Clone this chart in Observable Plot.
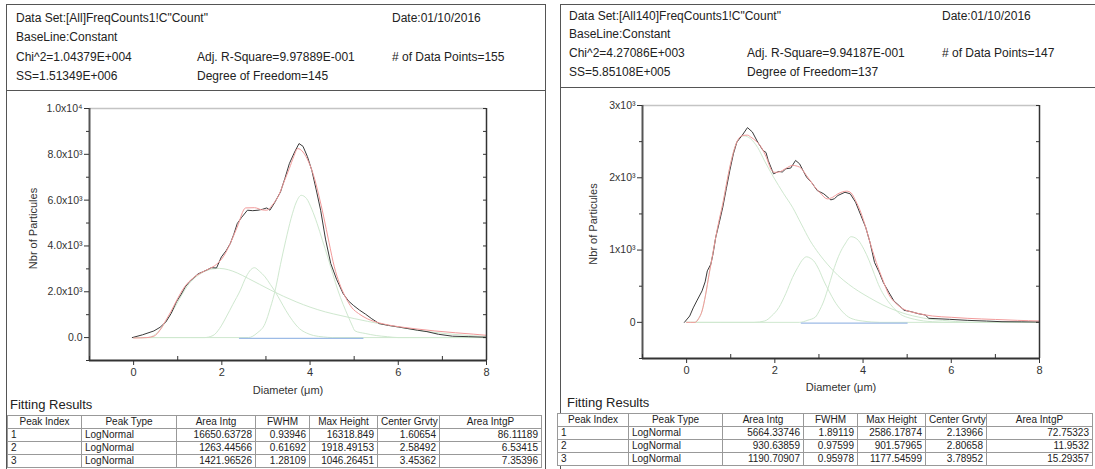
<!DOCTYPE html>
<html><head><meta charset="utf-8">
<script src="https://cdn.jsdelivr.net/npm/d3@7"></script>
<script src="https://cdn.jsdelivr.net/npm/@observablehq/plot@0.6"></script>
<style>
body{margin:0;width:1095px;height:469px;overflow:hidden;background:#fff;font-family:"Liberation Sans",Arial,sans-serif;position:relative;color:#222}
.panel{position:absolute;border:1.5px solid #555;box-sizing:border-box;}
.hr{position:absolute;height:0;border-top:1.5px solid #555;}
.t{position:absolute;font-size:12px;white-space:nowrap;line-height:14px}
.fr{position:absolute;font-size:13px;line-height:15px;white-space:nowrap}
.chart{position:absolute}
table{position:absolute;border-collapse:collapse;font-size:10px;table-layout:fixed;background:#fff}
td,th{border:1px solid #999;padding:0 3px;height:12px;line-height:12px;font-weight:normal;white-space:nowrap;overflow:hidden}
th{text-align:center}
td.n{text-align:right}
</style></head><body>
<div class="panel" style="left:6px;top:4px;width:540px;height:500px"></div>
<div class="panel" style="left:560px;top:4px;width:600px;height:500px"></div>
<div class="hr" style="left:6px;top:90px;width:540px"></div>
<div class="hr" style="left:560px;top:87px;width:535px"></div>
<div id="hdrL"></div><div id="hdrR"></div>
<div id="chartL" class="chart" style="left:0;top:90px"></div>
<div id="chartR" class="chart" style="left:548px;top:87px"></div>
<div class="fr" style="left:10px;top:397px">Fitting Results</div>
<div class="fr" style="left:567px;top:395px">Fitting Results</div>
<table id="tabL" style="left:7px;top:415px;width:534px"></table>
<table id="tabR" style="left:557px;top:413px;width:535px"></table>
<script>
// ---------- header texts ----------
const headerLeft = [
  ['Data Set:[All]FreqCounts1!C"Count"', '', 'Date:01/10/2016'],
  ['BaseLine:Constant', '', ''],
  ['Chi^2=1.04379E+004', 'Adj. R-Square=9.97889E-001', '# of Data Points=155'],
  ['SS=1.51349E+006', 'Degree of Freedom=145', '']
];
const headerRight = [
  ['Data Set:[All140]FreqCounts1!C"Count"', '', 'Date:01/10/2016'],
  ['BaseLine:Constant', '', ''],
  ['Chi^2=4.27086E+003', 'Adj. R-Square=9.94187E-001', '# of Data Points=147'],
  ['SS=5.85108E+005', 'Degree of Freedom=137', '']
];
// ---------- fitting result tables ----------
const tableColumns = ["Peak Index","Peak Type","Area Intg","FWHM","Max Height","Center Grvty","Area IntgP"];
const tableLeftRows = [
  ["1","LogNormal","16650.63728","0.93946","16318.849","1.60654","86.11189"],
  ["2","LogNormal","1263.44566","0.61692","1918.49153","2.58492","6.53415"],
  ["3","LogNormal","1421.96526","1.28109","1046.26451","3.45362","7.35396"]
];
const tableRightRows = [
  ["1","LogNormal","5664.33746","1.89119","2586.17874","2.13966","72.75323"],
  ["2","LogNormal","930.63859","0.97599","901.57965","2.80658","11.9532"],
  ["3","LogNormal","1190.70907","0.95978","1177.54599","3.78952","15.29357"]
];
// ---------- left chart data [diameter, count] ----------
const leftMeasured = [[-0.03,0],[0.2,120],[0.46,290],[0.6,450],[0.73,680],[0.85,1050],[0.97,1560],[1.08,1900],[1.17,2210],[1.27,2450],[1.36,2600],[1.46,2780],[1.56,2865],[1.68,2970],[1.76,3050],[1.88,3040],[1.99,3520],[2.1,3800],[2.19,4100],[2.27,4500],[2.35,4980],[2.45,5250],[2.58,5560],[2.7,5540],[2.82,5560],[2.92,5600],[3.02,5660],[3.09,5560],[3.2,5900],[3.33,6360],[3.43,6950],[3.53,7590],[3.65,8100],[3.75,8470],[3.84,8350],[3.94,7900],[4.04,7300],[4.14,6450],[4.24,5560],[4.35,4300],[4.47,3230],[4.6,2550],[4.75,1920],[4.87,1600],[4.98,1410],[5.12,1200],[5.26,1020],[5.4,820],[5.57,610],[5.78,530],[6.0,465],[6.2,400],[6.44,320],[6.65,260],[6.91,145],[7.23,60],[7.6,40],[8,15]];
const leftFit = [[0,-20],[0.3,0],[0.46,60],[0.6,330],[0.73,750],[0.85,1150],[0.97,1600],[1.15,2200],[1.36,2620],[1.55,2850],[1.72,3010],[1.88,3200],[2.03,3520],[2.2,4150],[2.35,4830],[2.54,5660],[2.74,5670],[2.9,5580],[3.02,5560],[3.15,5800],[3.29,6210],[3.41,6800],[3.53,7380],[3.63,7900],[3.72,8250],[3.84,8100],[3.96,7700],[4.08,7080],[4.2,6200],[4.31,5270],[4.43,4150],[4.55,3090],[4.67,2350],[4.8,1780],[4.95,1300],[5.1,1050],[5.3,820],[5.57,640],[5.8,540],[6.05,465],[6.4,380],[6.83,290],[7.3,210],[7.7,150],[8,100]];
const leftPeak1 = [[0,0],[0.3,0],[0.5,150],[0.7,600],[0.85,1050],[1.0,1550],[1.15,2050],[1.3,2450],[1.45,2700],[1.6,2880],[1.8,3000],[1.95,3020],[2.15,2960],[2.35,2820],[2.6,2580],[2.85,2330],[3.1,2080],[3.4,1800],[3.7,1550],[4.0,1330],[4.35,1120],[4.7,960],[5.0,830],[5.3,710],[5.65,580],[6.0,460],[6.4,330],[6.8,230],[7.2,150],[7.6,90],[8,50]];
const leftPeak2 = [[0,0],[1.6,0],[1.8,90],[1.95,400],[2.1,900],[2.25,1450],[2.42,2070],[2.55,2650],[2.66,2970],[2.74,3050],[2.85,2900],[2.98,2650],[3.1,2320],[3.21,2000],[3.33,1600],[3.45,1190],[3.6,750],[3.76,390],[3.92,200],[4.08,90],[4.3,30],[4.5,0],[8,0]];
const leftPeak3 = [[0,0],[2.6,0],[2.8,200],[2.98,610],[3.1,1300],[3.21,2070],[3.33,3200],[3.45,4250],[3.57,5200],[3.69,5920],[3.8,6210],[3.92,6070],[4.04,5600],[4.16,4980],[4.28,4250],[4.4,3520],[4.52,2750],[4.63,2070],[4.75,1450],[4.87,900],[4.95,550],[5.02,290],[5.25,180],[5.5,90],[5.75,40],[6.0,0],[8,0]];
const leftBaseline = [[2.4,-30],[5.2,-30]];
const leftYTicks = [0,2000,4000,6000,8000,10000];
const leftYTickLabels = ["0.0","2.0x10³","4.0x10³","6.0x10³","8.0x10³","1.0x10⁴"];
const leftYMinor = [-1000,1000,3000,5000,7000,9000];
// ---------- right chart data ----------
const rightMeasured = [[-0.05,0],[0.07,88],[0.15,200],[0.23,296],[0.35,435],[0.42,560],[0.47,713],[0.55,806],[0.6,950],[0.66,1176],[0.74,1380],[0.82,1593],[0.9,1850],[0.98,2102],[1.06,2330],[1.14,2495],[1.26,2588],[1.38,2694],[1.49,2634],[1.61,2495],[1.73,2380],[1.8,2350],[1.85,2240],[1.97,2055],[2.09,2088],[2.17,2080],[2.25,2125],[2.36,2134],[2.47,2240],[2.56,2194],[2.64,2100],[2.72,2009],[2.84,1930],[2.96,1824],[3.11,1778],[3.27,1694],[3.35,1710],[3.43,1755],[3.59,1800],[3.71,1778],[3.83,1662],[3.95,1480],[4.06,1315],[4.16,1100],[4.26,829],[4.36,700],[4.46,551],[4.58,420],[4.7,296],[4.82,230],[4.93,167],[5.09,148],[5.25,120],[5.41,102],[5.49,56],[5.7,50],[5.96,42],[6.36,28],[6.8,18],[7.15,9],[7.6,7],[8,5]];
const rightFit = [[0,0],[0.19,0],[0.27,50],[0.35,157],[0.43,380],[0.51,667],[0.58,900],[0.66,1176],[0.74,1420],[0.82,1639],[0.9,1900],[0.98,2148],[1.06,2350],[1.14,2495],[1.22,2570],[1.3,2588],[1.38,2590],[1.45,2565],[1.57,2510],[1.69,2426],[1.81,2280],[1.93,2102],[2.01,2075],[2.09,2079],[2.25,2130],[2.4,2171],[2.56,2148],[2.72,2030],[2.88,1894],[3.03,1790],[3.19,1708],[3.31,1730],[3.43,1778],[3.63,1815],[3.73,1790],[3.83,1685],[3.95,1520],[4.06,1315],[4.18,1060],[4.3,829],[4.44,600],[4.58,389],[4.75,260],[4.93,180],[5.2,130],[5.57,88],[6.0,70],[6.36,56],[7.0,40],[7.5,28],[8,19]];
const rightPeak1 = [[0,0],[0.19,0],[0.27,50],[0.35,157],[0.43,380],[0.51,667],[0.66,1176],[0.82,1639],[0.98,2148],[1.14,2495],[1.3,2580],[1.45,2540],[1.61,2420],[1.77,2230],[1.97,2010],[2.2,1780],[2.4,1593],[2.6,1360],[2.8,1130],[3.0,950],[3.19,806],[3.43,650],[3.67,528],[3.9,430],[4.14,343],[4.45,240],[4.77,157],[5.0,110],[5.25,74],[5.5,45],[5.8,28],[6.1,12],[6.36,0],[8,0]];
const rightPeak2 = [[0,0],[1.53,0],[1.77,19],[1.93,90],[2.09,204],[2.25,400],[2.4,620],[2.52,760],[2.64,875],[2.72,907],[2.8,890],[2.88,852],[3.0,730],[3.11,574],[3.23,430],[3.35,296],[3.5,170],[3.67,74],[3.83,35],[3.98,19],[4.2,5],[4.38,0],[8,0]];
const rightPeak3 = [[0,0],[2.56,0],[2.75,30],[2.92,74],[3.0,150],[3.11,296],[3.23,520],[3.35,759],[3.47,950],[3.59,1083],[3.73,1185],[3.82,1170],[3.9,1130],[4.02,1010],[4.14,852],[4.26,660],[4.38,481],[4.5,350],[4.62,250],[4.74,170],[4.85,111],[5.0,70],[5.17,42],[5.37,20],[5.57,9],[5.96,0],[8,0]];
const rightBaseline = [[2.6,-10],[5.0,-10]];
const rightYTicks = [0,1000,2000,3000];
const rightYTickLabels = ["0","1x10³","2x10³","3x10³"];
const rightYMinor = [-500,500,1500,2500];
const xTicks = [0,2,4,6,8];
const xTickLabels = ["0","2","4","6","8"];
const xMinor = [-1,1,3,5,7];
const yTitle = "Nbr of Particules";
const xTitle = "Diameter (μm)";

function header(el, rows, xs, ys){
  const host = document.getElementById(el);
  rows.forEach((r,i)=>r.forEach((txt,j)=>{
    if(!txt) return;
    const d=document.createElement("div");
    d.className="t"; d.textContent=txt;
    d.style.left=xs[j]+"px"; d.style.top=(ys[i]-7)+"px";
    host.appendChild(d);
  }));
}
header("hdrL", headerLeft, [16,197,392], [18,37,57,76]);
header("hdrR", headerRight, [569,747,942], [16,34,53,72]);

function table(el, rows, widths){
  const t=document.getElementById(el);
  const cg=document.createElement("colgroup");
  widths.forEach(w=>{const c=document.createElement("col");c.style.width=w+"px";cg.appendChild(c);});
  t.appendChild(cg);
  const hr=document.createElement("tr");
  tableColumns.forEach(c=>{const th=document.createElement("th");th.textContent=c;hr.appendChild(th);});
  t.appendChild(hr);
  rows.forEach(r=>{
    const tr=document.createElement("tr");
    r.forEach((v,j)=>{const td=document.createElement("td");td.textContent=v;if(j>1)td.className="n";tr.appendChild(td);});
    t.appendChild(tr);
  });
}
table("tabL", tableLeftRows, [74,95,79,54,68,62,102]);
table("tabR", tableRightRows, [71,94,81,54,68,61,106]);

function chart(cfg){
  const px=d=>d[0], py=d=>d[1];
  return Plot.plot({
    width:cfg.w, height:cfg.h,
    marginLeft:cfg.ml, marginRight:cfg.mr, marginTop:cfg.mt, marginBottom:cfg.mb,
    style:{fontFamily:"Liberation Sans, Arial, sans-serif", fontSize:"11px", color:"#333", background:"transparent", overflow:"visible"},
    x:{domain:[-1,8]},
    y:{domain:cfg.ydom},
    marks:[
      Plot.line(cfg.p1,{x:px,y:py,stroke:"#cfe8cf",strokeWidth:1,curve:"monotone-x"}),
      Plot.line(cfg.p2,{x:px,y:py,stroke:"#cfe8cf",strokeWidth:1,curve:"monotone-x"}),
      Plot.line(cfg.p3,{x:px,y:py,stroke:"#cfe8cf",strokeWidth:1,curve:"monotone-x"}),
      Plot.line(cfg.base,{x:px,y:py,stroke:"#9dbbe6",strokeWidth:1.2}),
      Plot.line(cfg.meas,{x:px,y:py,stroke:"#3a3a3a",strokeWidth:1}),
      Plot.line(cfg.fit,{x:px,y:py,stroke:"#f29a9a",strokeWidth:1,curve:"monotone-x"}),
      Plot.ruleY([cfg.ydom[1]],{stroke:"#c4c4c4",strokeWidth:1.5}),
      Plot.ruleX([8],{stroke:"#333",strokeWidth:1.5}),
      Plot.ruleX([-1],{stroke:"#555",strokeWidth:2}),
      Plot.ruleY([cfg.ydom[0]],{stroke:"#333",strokeWidth:2}),
      Plot.axisY({ticks:cfg.yt, anchor:"left", tickSize:5, tickPadding:2, fontSize:10.5,
        tickFormat:d=>cfg.yl[cfg.yt.indexOf(d)], label:null}),
      Plot.axisY({ticks:cfg.ym, anchor:"left", tickSize:3, tickFormat:()=>"", label:null}),
      Plot.axisY({ticks:cfg.yt.concat(cfg.ym), anchor:"right", tickSize:4, dx:-4, tickFormat:()=>"", label:null}),
      Plot.axisX({ticks:xTicks, anchor:"bottom", tickSize:5, tickPadding:3, fontSize:11,
        tickFormat:d=>xTickLabels[xTicks.indexOf(d)], label:null}),
      Plot.axisX({ticks:xMinor, anchor:"bottom", tickSize:4, dy:-4, tickFormat:()=>"", label:null}),
      Plot.text([yTitle],{text:d=>d, frameAnchor:"left", textAnchor:"middle", rotate:-90, dx:-cfg.lo, dy:cfg.ldy, fontSize:11, fill:"#333"}),
      Plot.text([xTitle],{text:d=>d, frameAnchor:"bottom", dy:cfg.xo, fontSize:11, fill:"#333"})
    ]
  });
}
document.getElementById("chartL").appendChild(chart({
  w:545,h:310,ml:89,mr:59,mt:18,mb:40,ydom:[-1000,10000],
  yt:leftYTicks,yl:leftYTickLabels,ym:leftYMinor,lo:56,ldy:-6,xo:33,
  meas:leftMeasured,fit:leftFit,p1:leftPeak1,p2:leftPeak2,p3:leftPeak3,base:leftBaseline
}));
document.getElementById("chartR").appendChild(chart({
  w:547,h:313,ml:94,mr:56,mt:18,mb:42,ydom:[-500,3000],
  yt:rightYTicks,yl:rightYTickLabels,ym:rightYMinor,lo:49,ldy:-8,xo:32,
  meas:rightMeasured,fit:rightFit,p1:rightPeak1,p2:rightPeak2,p3:rightPeak3,base:rightBaseline
}));
</script>
</body></html>
